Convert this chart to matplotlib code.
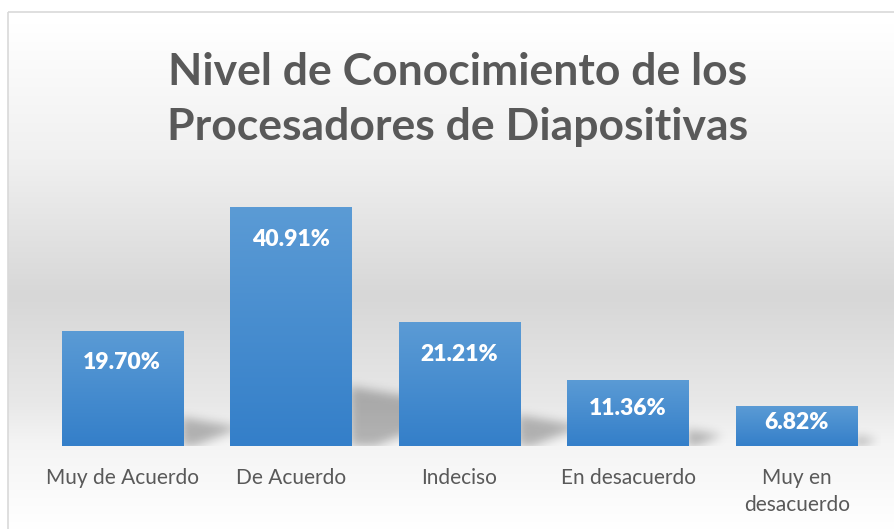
import numpy as np
import matplotlib
matplotlib.use("Agg")
import matplotlib.pyplot as plt
from matplotlib.path import Path
from matplotlib.patches import Rectangle

plt.rcParams['font.family'] = ['Lato', 'DejaVu Sans']

categories = ["Muy de Acuerdo", "De Acuerdo", "Indeciso", "En desacuerdo", "Muy en\ndesacuerdo"]
values = [19.70, 40.91, 21.21, 11.36, 6.82]
value_labels = ["19.70%", "40.91%", "21.21%", "11.36%", "6.82%"]
title_lines = ["Nivel de Conocimiento de los", "Procesadores de Diapositivas"]

W_PX, H_PX = 895, 529
fig = plt.figure(figsize=(W_PX / 100, H_PX / 100), dpi=100)
fig.patch.set_facecolor("white")

# ---- background gradient (chart area) ----
bg = fig.add_axes([0, 0, 1, 1], zorder=-10)
bg.set_xlim(0, W_PX)
bg.set_ylim(H_PX, 0)
bg.axis("off")
yy = np.arange(H_PX)
stops_y = [12, 150, 290, 400, 440, 529]
stops_c = [255, 240, 215, 232, 244, 255]
grad = np.interp(yy, stops_y, stops_c) / 255.0
img = np.repeat(grad[:, None], 2, axis=1)
bg.imshow(np.dstack([img, img, img]), extent=(8, W_PX, H_PX, 12), aspect="auto", interpolation="bilinear")
bg.add_patch(Rectangle((8, 12), W_PX, H_PX, fill=False, edgecolor="#d9d9d9", lw=1.2))

# ---- main axes ----
ax_left, ax_right = 38, 881
base_px, ymax = 446, 45.0
px_per_unit = 5.84
ax_h = ymax * px_per_unit
ax = fig.add_axes([ax_left / W_PX, (H_PX - base_px) / H_PX, (ax_right - ax_left) / W_PX, ax_h / H_PX])
ax.set_facecolor("none")
ax.set_xlim(-0.5, len(categories) - 0.5)
ax.set_ylim(0, ymax)
for s in ax.spines.values():
    s.set_visible(False)
ax.set_yticks([])

x = np.arange(len(categories))
bw = 0.72
bars = ax.bar(x, values, width=bw, color="#4a8fd2", zorder=3, edgecolor="none")

# gradient inside bars
bar_grad = np.linspace(0, 1, 100)[:, None]
top_c = np.array([91, 155, 213]) / 255
bot_c = np.array([52, 127, 201]) / 255
grad_img = (top_c[None, None, :] * (1 - bar_grad[:, :, None]) + bot_c[None, None, :] * bar_grad[:, :, None])
for b in bars:
    bx, by, bwid, bh = b.get_x(), b.get_y(), b.get_width(), b.get_height()
    im = ax.imshow(grad_img, extent=(bx, bx + bwid, by, by + bh), aspect="auto", zorder=4, interpolation="bilinear")
    im.set_clip_path(b)

# ---- soft perspective shadows ----
Wp = int(ax_right - ax_left)
Hp = int(round(ax_h))
sx = Wp / (len(categories))  # px per category
gx, gy = np.meshgrid(np.arange(Wp) + 0.5, np.arange(Hp) + 0.5)
pts = np.column_stack([gx.ravel(), gy.ravel()])
mask = np.zeros(Wp * Hp)
for xi, v in zip(x, values):
    xr = (xi + bw / 2 + 0.5) * sx
    h = v * px_per_unit
    poly = Path([(xr - 2, 0), (xr - 2, 0.25 * h), (xr + 0.5 * h, 0.16 * h), (xr + 0.1 * h, 0)])
    mask = np.maximum(mask, poly.contains_points(pts).astype(float))
mask = mask.reshape(Hp, Wp)
sig = 5.0
k = np.exp(-0.5 * (np.arange(-15, 16) / sig) ** 2)
k /= k.sum()
mask = np.apply_along_axis(lambda r: np.convolve(r, k, mode="same"), 1, mask)
mask = np.apply_along_axis(lambda c: np.convolve(c, k, mode="same"), 0, mask)
shadow = np.zeros((Hp, Wp, 4))
shadow[..., 3] = 0.27 * mask
ax.imshow(shadow, extent=(-0.5, len(categories) - 0.5, 0, ymax), origin="lower", aspect="auto", zorder=2)

# value labels
for xi, v, lab in zip(x, values, value_labels):
    h = v * px_per_unit
    off = min(32, h / 2 - 4) / px_per_unit
    ax.text(xi, v - off, lab, ha="center", va="center", color="white", fontsize=16.5, fontweight="heavy", zorder=5)

ax.set_xticks(x)
ax.set_xticklabels(categories, fontsize=15, color="#595959", linespacing=1.45)
ax.tick_params(axis="x", length=0, pad=16)
for t in ax.get_xticklabels():
    t.set_multialignment("center")

for ty, line in zip([72, 127], title_lines):
    fig.text(458 / W_PX, 1 - ty / H_PX, line, ha="center", va="center", fontsize=32, fontweight="bold",
             color="#595959")

fig.savefig("out.png", dpi=100)
